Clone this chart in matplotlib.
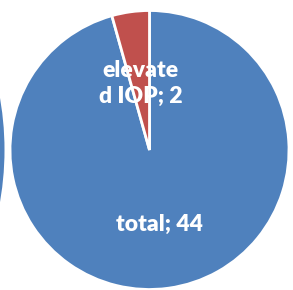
import numpy as np
import matplotlib
matplotlib.use('Agg')
import matplotlib.pyplot as plt
from matplotlib.patches import Circle

labels = ['total', 'elevated IOP']
values = [44, 2]
shown_labels = ['total; 44', 'elevate\nd IOP; 2']
colors = ['#4F81BD', '#C0504D']
label_dist = [0.54, 0.48]

W, H = 293, 290
fig = plt.figure(figsize=(W / 100, H / 100), dpi=100)

# sliver of the neighbouring chart at the left edge
bg = fig.add_axes([0, 0, 1, 1])
bg.set_xlim(0, W)
bg.set_ylim(H, 0)
bg.axis('off')
bg.add_patch(Circle((-296, 150), 300.5, color='#4F81BD', lw=0))

cx, cy, r = 149.5, 150, 139.5
ax = fig.add_axes([(cx - r) / W, (H - cy - r) / H, 2 * r / W, 2 * r / H])
wedges, _ = ax.pie(values, colors=colors, startangle=90, counterclock=False,
                   wedgeprops=dict(edgecolor='white', linewidth=2))
ax.set_xlim(-1, 1)
ax.set_ylim(-1, 1)
ax.axis('off')

for w, txt, d in zip(wedges, shown_labels, label_dist):
    mid = np.deg2rad((w.theta1 + w.theta2) / 2)
    ax.text(d * np.cos(mid), d * np.sin(mid), txt, ha='center', va='center',
            color='white', fontsize=16.5, fontweight='heavy', family='Lato',
            linespacing=1.32)

fig.savefig('out.png', dpi=100)
